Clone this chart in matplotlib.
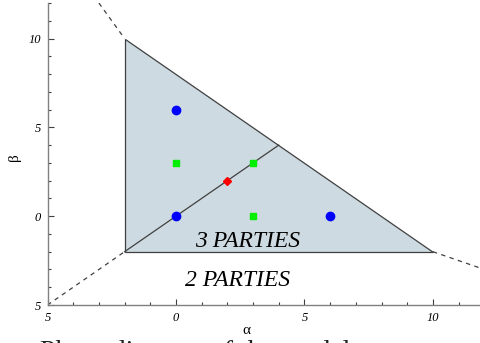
import matplotlib
matplotlib.use("Agg")
import matplotlib.pyplot as plt
from matplotlib.patches import Polygon
from matplotlib.ticker import MultipleLocator, FixedLocator

# Data
triangle_x = [-2, -2, 10]
triangle_y = [10, -2, -2]
inner_line_x = [-2, 4]
inner_line_y = [-2, 4]
dash_tl_x = [-3, -2]
dash_tl_y = [12, 10]
dash_bl_x = [-5, -2]
dash_bl_y = [-5, -2]
dash_r_x = [10, 12]
dash_r_y = [-2, -3]
blue_x = [0, 0, 6]
blue_y = [6, 0, 0]
green_x = [0, 3, 3]
green_y = [3, 3, 0]
red_x = [2]
red_y = [2]
xticks = [-5, 0, 5, 10]
xtick_labels = ["5", "0", "5", "10"]
yticks = [-5, 0, 5, 10]
ytick_labels = ["5", "0", "5", "10"]

serif = ["Liberation Serif", "DejaVu Serif"]

fig = plt.figure(figsize=(4.81, 3.43), dpi=100)
ax = fig.add_axes([47.5/481, 38/343, (481-47.5)/481, (305-3)/343])
ax.set_xlim(-5, 11.87)
ax.set_ylim(-5, 12)
ax.patch.set_alpha(0)

poly = Polygon(list(zip(triangle_x, triangle_y)), closed=True,
               facecolor="#cddae1", edgecolor="#404040", linewidth=0.9, zorder=1)
ax.add_patch(poly)
ax.plot(inner_line_x, inner_line_y, color="#404040", lw=0.9, zorder=2)
for xs, ys in [(dash_tl_x, dash_tl_y), (dash_bl_x, dash_bl_y), (dash_r_x, dash_r_y)]:
    ax.plot(xs, ys, color="#404040", lw=0.9, ls=(0, (3.5, 3.5)), zorder=2, clip_on=True)

ax.plot(blue_x, blue_y, "o", color="#0000ff", ms=6, zorder=3)
ax.plot(green_x, green_y, "s", color="#00ee00", ms=5, zorder=3)
ax.plot(red_x, red_y, "D", color="#ff0000", ms=4, zorder=3)

ax.text(2.8, -1.45, "3 PARTIES", fontsize=17, family=serif, style="italic",
        ha="center", va="center")
ax.text(2.4, -3.6, "2 PARTIES", fontsize=17, family=serif, style="italic",
        ha="center", va="center")

for s in ["top", "right"]:
    ax.spines[s].set_visible(False)
for s in ["left", "bottom"]:
    ax.spines[s].set_color("#808080")
    ax.spines[s].set_linewidth(1.0)

ax.xaxis.set_major_locator(FixedLocator(xticks))
ax.yaxis.set_major_locator(FixedLocator(yticks))
ax.set_xticklabels(xtick_labels)
ax.set_yticklabels(ytick_labels)
ax.xaxis.set_minor_locator(MultipleLocator(1))
ax.yaxis.set_minor_locator(MultipleLocator(1))
ax.tick_params(which="major", direction="in", length=4, width=0.8, color="#404040",
               labelsize=9, pad=5)
ax.tick_params(which="minor", direction="in", length=2, width=0.8, color="#404040")
for lab in ax.get_xticklabels() + ax.get_yticklabels():
    lab.set_family(serif)
    lab.set_style("italic")

fig.text(246/481, 1 - 330/343, "α", fontsize=11, family=serif, ha="center", va="center")
fig.text(14/481, 1 - 157/343, "β", fontsize=11, family=serif, ha="center", va="center",
         rotation=90)

fig.text(40/481, 1 - 340/343, "Phase diagram of the model", fontsize=20, family=serif,
         ha="left", va="top", color="#202020")

fig.savefig("out.png", dpi=100)
